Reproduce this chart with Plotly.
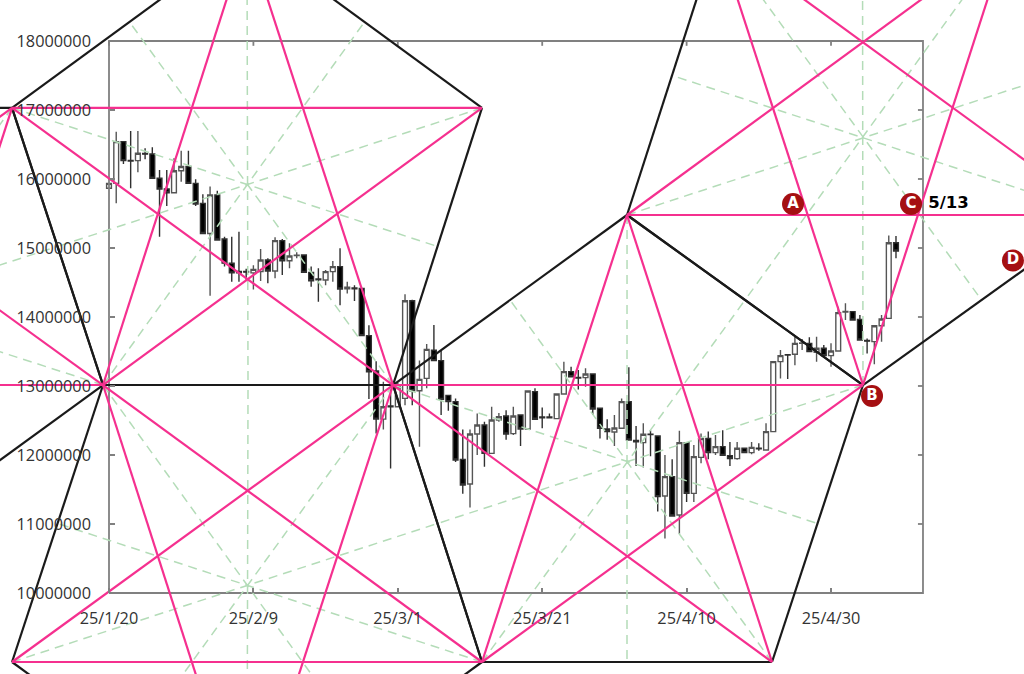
import plotly.graph_objects as go

# Daily candles, day 0 = 25/1/20, prices in millions
OPEN = [15.865,15.937,16.541,16.27,16.266,16.37,16.362,16.01,15.855,15.80,16.12,16.18,15.937,15.647,15.21,15.768,15.13,14.78,14.66,14.66,
        14.64,14.657,14.826,14.666,15.106,14.816,14.89,14.898,14.647,14.55,14.536,14.657,14.73,14.41,14.42,14.415,13.73,13.217,12.52,12.71,
        12.70,12.82,14.236,12.93,13.11,13.52,13.367,12.864,12.773,11.937,11.58,12.304,12.435,12.024,12.507,12.565,12.31,12.58,12.377,12.918,
        12.55,12.55,12.527,12.884,13.208,13.125,13.121,13.174,12.677,12.377,12.334,12.387,12.773,12.21,12.179,12.30,12.275,11.406,11.686,11.13,
        12.179,11.444,11.966,12.24,12.034,12.121,11.99,11.947,12.097,12.034,12.10,12.073,12.338,13.353,13.455,13.459,13.62,13.618,13.488,13.546,
        13.44,13.507,14.07,14.078,13.966,13.66,13.643,13.874,13.98,15.077]
HIGH = [15.94,16.686,16.55,16.695,16.695,16.444,16.459,16.13,16.13,16.30,16.41,16.41,15.995,15.78,15.89,15.83,15.164,15.164,15.237,14.70,
        14.75,14.985,14.85,15.154,15.13,15.07,14.937,14.90,14.73,14.705,14.68,14.81,14.995,14.51,14.46,14.42,13.88,13.36,13.06,13.01,
        13.05,14.33,14.25,13.37,13.61,13.884,13.51,12.87,12.82,12.37,12.37,12.60,12.48,12.70,12.61,12.65,12.70,12.59,12.93,12.966,
        12.69,12.60,12.89,13.353,13.28,13.232,13.256,13.18,12.68,12.517,12.58,12.82,13.27,12.42,12.46,12.36,12.28,12.0,11.94,12.353,
        12.18,12.145,12.31,12.34,12.29,12.36,12.19,12.19,12.10,12.19,12.17,12.46,13.36,13.52,13.46,13.715,13.68,13.705,13.715,13.594,
        13.62,14.15,14.2,14.08,14.03,13.69,13.88,14.03,15.18,15.174]
LOW = [15.86,15.647,16.217,15.865,16.097,16.285,16.01,15.164,15.61,15.80,15.96,15.937,15.61,15.21,14.309,15.116,14.73,14.51,14.51,14.54,
       14.40,14.52,14.49,14.56,14.61,14.705,14.85,14.647,14.44,14.22,14.46,14.51,14.17,14.34,14.23,13.73,12.81,12.31,12.37,11.806,
       12.70,12.72,12.72,12.12,12.966,13.367,12.58,12.64,11.90,11.44,11.24,12.0,11.83,12.02,12.48,12.22,12.29,12.13,12.377,12.517,
       12.387,12.53,12.527,12.884,13.135,12.95,12.99,12.58,12.24,12.22,12.13,12.387,12.217,11.84,11.82,11.98,11.18,10.79,11.116,10.855,
       11.32,11.32,11.88,11.94,12.0,11.995,11.84,11.93,12.034,12.01,12.06,12.073,12.33,13.11,13.1,13.30,13.52,13.49,13.353,13.425,
       13.28,13.507,13.957,13.957,13.66,13.47,13.314,13.64,13.98,14.85]
CLOSE = [15.937,16.541,16.266,16.26,16.372,16.36,16.01,15.855,15.80,16.12,16.18,15.937,15.638,15.21,15.768,15.116,14.78,14.64,14.64,14.65,
         14.69,14.826,14.666,15.106,14.816,14.884,14.895,14.647,14.526,14.54,14.657,14.73,14.405,14.43,14.41,13.73,13.207,12.52,12.70,12.70,
         12.99,14.236,12.93,13.096,13.53,13.367,12.806,12.773,11.927,11.565,12.304,12.435,12.024,12.507,12.555,12.304,12.565,12.377,12.928,12.517,
         12.54,12.54,12.884,13.208,13.135,13.115,13.174,12.667,12.387,12.338,12.392,12.773,12.217,12.19,12.30,12.295,11.396,11.686,11.116,12.179,
         11.444,11.976,12.24,12.034,12.121,11.995,11.947,12.097,12.034,12.111,12.09,12.338,13.353,13.44,13.45,13.618,13.625,13.498,13.546,13.44,
         13.507,14.063,14.08,13.957,13.667,13.65,13.874,13.971,15.077,14.957]

TICK_DAYS = [0, 20, 40, 60, 80, 100]
TICK_DATES = ["25/1/20", "25/2/9", "25/3/1", "25/3/21", "25/4/10", "25/4/30"]
TICK_PRICES = [10, 11, 12, 13, 14, 15, 16, 17, 18]

# Pentagon vertices (day, price in millions), in ring order
PENT_TOP_LEFT = [(-13.43,17.03),(19.11,19.522),(51.66,17.03),(39.34,13.014),(-0.83,13.014)]
PENT_BOTTOM_LEFT = [(-0.83,13.014),(39.34,13.014),(51.66,9.0),(19.11,6.507),(-13.43,9.0)]
PENT_MIDDLE = [(39.34,13.014),(71.75,15.478),(104.43,13.014),(91.83,9.0),(51.66,9.0)]
PENT_TOP_RIGHT = [(71.75,15.478),(84.21,19.522),(124.52,19.522),(137.26,15.478),(104.43,13.014)]
PENT_FAR_LEFT = [(-66.76,13.014),(-53.88,17.03),(-13.43,17.03),(-0.83,13.014),(-33.52,10.522)]
PENTAGONS = [PENT_TOP_LEFT, PENT_BOTTOM_LEFT, PENT_MIDDLE, PENT_TOP_RIGHT, PENT_FAR_LEFT]

MARK_NAMES = ["A", "C", "D", "B"]
MARK_DAYS = [94.74, 111.08, 125.2, 105.68]
MARK_PRICES = [15.638, 15.638, 14.819, 12.855]
NOTE_DAY, NOTE_PRICE, NOTE_TEXT = 116.27, 15.638, "5/13"

M = 1e6
FRAME_RIGHT = 112.74
W, H = 1024, 674
X_RANGE = [-15.097, 126.73]
Y_RANGE = [8.826 * M, 18.594 * M]
AXIS_X_FRAC = (0 - X_RANGE[0]) / (X_RANGE[1] - X_RANGE[0])
AXIS_Y_FRAC = (10 * M - Y_RANGE[0]) / (Y_RANGE[1] - Y_RANGE[0])

BLACK_XY, PINK_XY, GREEN_XY = ([], []), ([], []), ([], [])


def seg(store, a, b):
    store[0].extend([a[0], b[0], None])
    store[1].extend([a[1] * M, b[1] * M, None])


for p in PENTAGONS:
    for i in range(5):
        seg(BLACK_XY, p[i], p[(i + 1) % 5])
        seg(PINK_XY, p[i], p[(i + 2) % 5])
        q, r = p[(i + 2) % 5], p[(i + 3) % 5]
        seg(GREEN_XY, p[i], ((q[0] + r[0]) / 2, (q[1] + r[1]) / 2))

fig = go.Figure()
# frame and mirrored ticks
tick_dx, tick_dy = 0.7, 0.07
mx, my = [0, FRAME_RIGHT, FRAME_RIGHT, 0, 0, None], [10*M, 10*M, 18*M, 18*M, 10*M, None]
for t in TICK_PRICES:
    mx += [FRAME_RIGHT, FRAME_RIGHT - tick_dx, None]
    my += [t*M, t*M, None]
for d in TICK_DAYS:
    mx += [d, d, None]
    my += [18*M, (18 - tick_dy)*M, None]
fig.add_trace(go.Scatter(x=mx, y=my, mode="lines", line=dict(color="#808080", width=1.8), hoverinfo="skip"))

fig.add_trace(go.Candlestick(
    x=list(range(len(OPEN))),
    open=[v * M for v in OPEN], high=[v * M for v in HIGH],
    low=[v * M for v in LOW], close=[v * M for v in CLOSE],
    increasing=dict(line=dict(color="#555555", width=1.4), fillcolor="#ffffff"),
    decreasing=dict(line=dict(color="#303030", width=1.4), fillcolor="#000000"),
    whiskerwidth=0,
))
fig.add_trace(go.Scatter(x=GREEN_XY[0], y=GREEN_XY[1], mode="lines",
                         line=dict(color="#b4dcb8", width=1.5, dash="9px,6px"), hoverinfo="skip"))
fig.add_trace(go.Scatter(x=BLACK_XY[0], y=BLACK_XY[1], mode="lines",
                         line=dict(color="#1a1a1a", width=2.2), hoverinfo="skip"))
fig.add_trace(go.Scatter(x=PINK_XY[0], y=PINK_XY[1], mode="lines",
                         line=dict(color="#f5308f", width=2.2), hoverinfo="skip"))
fig.add_trace(go.Scatter(x=MARK_DAYS, y=[v * M for v in MARK_PRICES], mode="markers+text",
                         text=MARK_NAMES, textposition="middle center", cliponaxis=False,
                         marker=dict(size=22, color="#a50f12"),
                         textfont=dict(family="DejaVu Sans", size=15, color="#ffffff", weight="bold"),
                         hoverinfo="skip"))
fig.add_trace(go.Scatter(x=[NOTE_DAY], y=[NOTE_PRICE * M], mode="text", text=[NOTE_TEXT],
                         textposition="middle center", cliponaxis=False,
                         textfont=dict(family="DejaVu Sans", size=16.5, color="#000000", weight="bold"),
                         hoverinfo="skip"))

fig.update_layout(
    width=W, height=H, margin=dict(l=0, r=0, t=0, b=0), showlegend=False,
    plot_bgcolor="#ffffff", paper_bgcolor="#ffffff", boxgap=0.05,
    font=dict(family="Open Sans", size=16.3, color="#333333"),
    xaxis=dict(type="linear", range=X_RANGE, domain=[0, 1], anchor="free", position=AXIS_Y_FRAC,
               tickmode="array", tickvals=TICK_DAYS, ticktext=TICK_DATES, ticks="inside",
               ticklen=5, tickcolor="#808080", tickwidth=1.5, showgrid=False, zeroline=False,
               showline=False, rangeslider=dict(visible=False), ticklabelstandoff=14),
    yaxis=dict(type="linear", range=Y_RANGE, domain=[0, 1], anchor="free", position=AXIS_X_FRAC,
               tickmode="array", tickvals=[t * M for t in TICK_PRICES],
               ticktext=[f"{t * 1000000}" for t in TICK_PRICES], ticks="inside",
               ticklen=5, tickcolor="#808080", tickwidth=1.5, showgrid=False, zeroline=False,
               showline=False, ticklabelstandoff=18),
)

fig.write_html("out.html", config={"displayModeBar": False},
               post_script="document.documentElement.style.margin='0';document.body.style.margin='0';")
